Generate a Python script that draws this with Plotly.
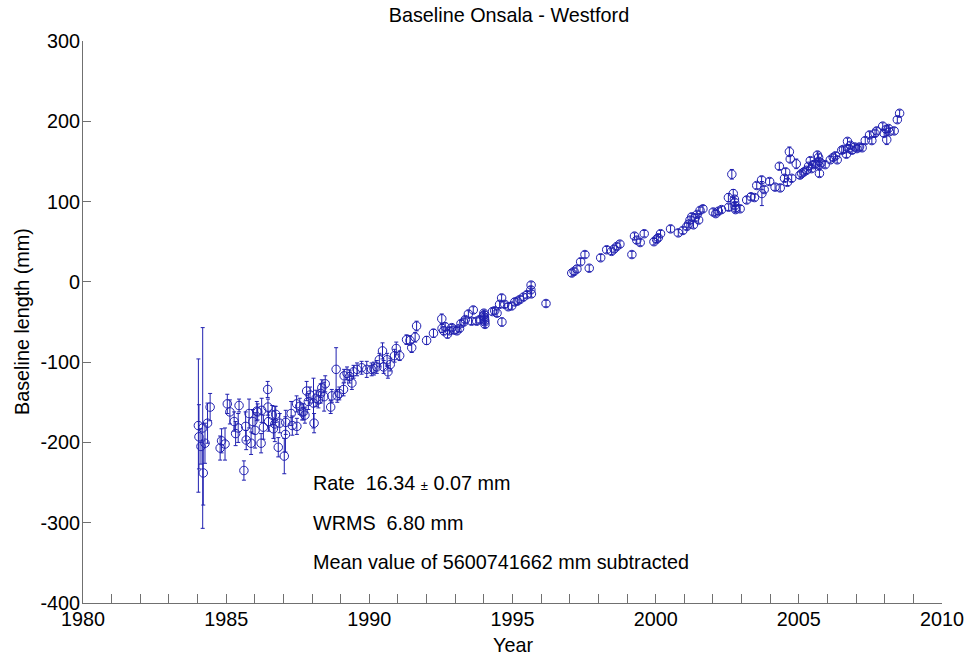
import plotly.graph_objects as go

# ---------------- data ----------------
years = [
    1984.03, 1984.05, 1984.12, 1984.18, 1984.20, 1984.26, 1984.35, 1984.44,
    1984.79, 1984.84, 1984.96, 1985.04, 1985.13, 1985.28, 1985.33, 1985.42,
    1985.45, 1985.62, 1985.68, 1985.70, 1985.80, 1985.87, 1985.93, 1986.01,
    1986.07, 1986.10, 1986.22, 1986.24, 1986.30, 1986.45, 1986.46, 1986.48,
    1986.61, 1986.65, 1986.70, 1986.73, 1986.82, 1986.87, 1987.03, 1987.07,
    1987.08, 1987.27, 1987.31, 1987.46, 1987.47, 1987.57, 1987.65, 1987.70,
    1987.75, 1987.81, 1987.87, 1987.93, 1988.05, 1988.07, 1988.14, 1988.22,
    1988.30, 1988.34, 1988.42, 1988.46, 1988.65, 1988.69, 1988.84, 1988.88,
    1988.95, 1989.10, 1989.12, 1989.22, 1989.31, 1989.39, 1989.45, 1989.57,
    1989.73, 1989.91, 1990.08, 1990.16, 1990.26, 1990.35, 1990.46, 1990.50,
    1990.62, 1990.65, 1990.73, 1990.88, 1990.94, 1991.06, 1991.30, 1991.42,
    1991.48, 1991.60, 1991.65, 1992.00, 1992.24, 1992.53, 1992.54, 1992.60,
    1992.65, 1992.73, 1992.80, 1992.88, 1992.96, 1993.06, 1993.15, 1993.20,
    1993.30, 1993.35, 1993.46, 1993.57, 1993.63, 1993.75, 1993.86, 1993.98,
    1994.00, 1994.01, 1994.02, 1994.02, 1994.03, 1994.03, 1994.04, 1994.30,
    1994.38, 1994.46, 1994.55, 1994.62, 1994.63, 1994.73, 1994.85, 1994.97,
    1995.08, 1995.17, 1995.26, 1995.38, 1995.50, 1995.64, 1995.65, 1995.66,
    1996.17, 1997.07, 1997.15, 1997.25, 1997.38, 1997.53, 1997.68, 1998.08,
    1998.29, 1998.46, 1998.55, 1998.64, 1998.75, 1999.17, 1999.26, 1999.34,
    1999.46, 1999.60, 1999.94, 2000.03, 2000.09, 2000.17, 2000.52, 2000.79,
    2000.95, 2001.09, 2001.15, 2001.20, 2001.26, 2001.32, 2001.38, 2001.45,
    2001.50, 2001.55, 2001.65, 2002.01, 2002.10, 2002.19, 2002.30, 2002.54,
    2002.55, 2002.66, 2002.71, 2002.75, 2002.76, 2002.77, 2002.78, 2002.79,
    2002.95, 2003.18, 2003.33, 2003.45, 2003.53, 2003.70, 2003.71, 2003.79,
    2003.98, 2004.17, 2004.32, 2004.35, 2004.50, 2004.54, 2004.60, 2004.67,
    2004.70, 2004.75, 2004.91, 2005.04, 2005.10, 2005.18, 2005.27, 2005.34,
    2005.40, 2005.44, 2005.50, 2005.58, 2005.65, 2005.69, 2005.70, 2005.71,
    2005.72, 2005.77, 2005.92, 2006.10, 2006.20, 2006.28, 2006.34, 2006.50,
    2006.56, 2006.66, 2006.70, 2006.75, 2006.80, 2006.86, 2006.95, 2007.03,
    2007.12, 2007.21, 2007.32, 2007.47, 2007.55, 2007.66, 2007.72, 2007.93,
    2007.98, 2008.05, 2008.07, 2008.13, 2008.16, 2008.33, 2008.44, 2008.52,
]
length_mm = [
    -179, -193, -205, -182, -238, -201, -176, -156,
    -207, -198, -202, -152, -162, -174, -189, -182,
    -154, -235, -180, -197, -164, -201, -174, -185,
    -161, -162, -201, -160, -181, -134, -156, -174,
    -166, -183, -177, -165, -206, -176, -217, -190,
    -175, -164, -179, -152, -180, -155, -162, -162,
    -166, -136, -149, -141, -151, -176, -145, -147,
    -139, -132, -143, -127, -156, -142, -109, -142,
    -139, -134, -117, -114, -118, -126, -112, -109,
    -107, -109, -109, -108, -106, -97, -86, -106,
    -97, -112, -103, -92, -83, -92, -72, -73,
    -82, -69, -55, -73, -64, -46, -58, -61,
    -56, -65, -61, -57, -60, -61, -58, -52,
    -50, -47, -40, -49, -35, -49, -47, -43,
    -39, -41, -44, -46, -48, -50, -53, -37,
    -36, -39, -28, -20, -50, -28, -31, -30,
    -25, -24, -22, -19, -16, -10, -4, -15,
    -27, 11, 13, 16, 25, 34, 17, 30,
    40, 38, 41, 44, 47, 34, 57, 52,
    49, 60, 50, 53, 55, 60, 66, 61,
    64, 69, 72, 77, 81, 71, 80, 84,
    77, 89, 91, 87, 85, 88, 90, 105,
    93, 134, 110, 103, 99, 95, 92, 90,
    91, 102, 106, 105, 120, 127, 110, 115,
    125, 118, 144, 117, 129, 137, 124, 162,
    153, 129, 147, 133, 135, 137, 139, 144,
    151, 141, 146, 147, 158, 155, 150, 145,
    135, 148, 146, 152, 155, 157, 152, 164,
    165, 159, 175, 166, 170, 164, 168, 166,
    168, 167, 176, 183, 176, 185, 188, 194,
    185, 190, 177, 191, 187, 188, 202, 210,
]
sigma_mm = [
    83, 40, 22, 125, 40, 25, 25, 17,
    15, 15, 20, 12, 15, 12, 15, 18,
    8, 12, 18, 12, 18, 14, 15, 22,
    12, 10, 12, 15, 15, 10, 10, 12,
    12, 12, 22, 10, 12, 12, 22, 22,
    15, 15, 12, 10, 10, 10, 10, 10,
    10, 12, 10, 10, 31, 12, 10, 10,
    12, 10, 18, 10, 8, 8, 27, 8,
    8, 8, 8, 8, 8, 8, 8, 8,
    8, 10, 8, 8, 8, 8, 10, 8,
    8, 8, 8, 8, 8, 6, 6, 6,
    6, 6, 6, 5, 5, 6, 5, 5,
    5, 5, 4, 4, 4, 4, 4, 4,
    4, 4, 4, 4, 4, 4, 4, 4,
    4, 4, 4, 4, 4, 4, 4, 4,
    4, 4, 4, 4, 5, 4, 4, 4,
    4, 4, 4, 4, 4, 4, 4, 4,
    4, 4, 4, 4, 4, 4, 4, 4,
    4, 4, 4, 4, 4, 4, 4, 4,
    4, 4, 4, 4, 4, 4, 4, 4,
    4, 4, 4, 4, 4, 4, 4, 4,
    4, 4, 4, 4, 4, 4, 4, 5,
    4, 6, 5, 4, 4, 4, 4, 4,
    4, 4, 4, 4, 4, 4, 15, 4,
    4, 4, 4, 4, 4, 4, 4, 6,
    4, 4, 6, 4, 4, 4, 4, 4,
    4, 4, 4, 4, 4, 4, 4, 4,
    4, 4, 4, 4, 4, 4, 4, 4,
    4, 4, 4, 4, 4, 4, 4, 4,
    4, 4, 4, 4, 4, 4, 4, 4,
    4, 4, 6, 4, 4, 4, 4, 4,
]

x_tickvals = [1980, 1985, 1990, 1995, 2000, 2005, 2010]
x_ticktext = ["1980", "1985", "1990", "1995", "2000", "2005", "2010"]
y_tickvals = [-400, -300, -200, -100, 0, 100, 200, 300]
y_ticktext = ["-400", "-300", "-200", "-100", "0", "100", "200", "300"]

title_text = "Baseline Onsala - Westford"
x_title = "Year"
y_title = "Baseline length (mm)"
notes = [
    "Rate  16.34 <span style='font-size:13px'>±</span> 0.07 mm",
    "WRMS  6.80 mm",
    "Mean value of 5600741662 mm subtracted",
]
note_y = [-251, -300, -349]
note_x = 1987.95

# ---------------- figure ----------------
BLUE = "#2020b0"
AXC = "#707070"
FONT = "Liberation Sans, Arial, Helvetica, sans-serif"
FS = 19.8

fig = go.Figure()
fig.add_trace(go.Scatter(
    x=years, y=length_mm, mode="markers",
    marker=dict(symbol="circle-open", size=8.5, color=BLUE, line=dict(width=1, color=BLUE)),
    error_y=dict(type="data", array=sigma_mm, visible=True, color=BLUE, thickness=1, width=2),
    showlegend=False,
))

for t, yv in zip(notes, note_y):
    fig.add_annotation(x=note_x, y=yv, xref="x", yref="y", text=t, showarrow=False,
                       xanchor="left", yanchor="middle",
                       font=dict(family=FONT, size=FS, color="black"))

# axis titles
fig.add_annotation(x=0.5, y=0, xref="paper", yref="paper", yshift=-42, text=x_title,
                   showarrow=False, xanchor="center", yanchor="middle",
                   font=dict(family=FONT, size=FS, color="black"))
fig.add_annotation(x=0, y=0.5, xref="paper", yref="paper", xshift=-61, text=y_title,
                   textangle=-90, showarrow=False, xanchor="center", yanchor="middle",
                   font=dict(family=FONT, size=FS, color="black"))

fig.update_layout(
    width=965, height=658,
    margin=dict(l=83, r=23, t=41, b=55, autoexpand=False),
    paper_bgcolor="white", plot_bgcolor="white",
    font=dict(family=FONT, size=FS, color="black"),
    title=dict(text=title_text, x=509 / 965, xref="container", xanchor="center",
               y=1 - 15 / 658, yref="container", yanchor="middle",
               font=dict(family=FONT, size=FS, color="black")),
    xaxis=dict(
        range=[1980, 2010], tickvals=x_tickvals, ticktext=x_ticktext,
        ticks="inside", ticklen=9, tickcolor=AXC, tickwidth=1,
        minor=dict(dtick=1, tick0=1980, ticks="inside", ticklen=9, tickcolor=AXC, tickwidth=1, showgrid=False),
        showline=True, linecolor=AXC, linewidth=1, mirror=False,
        showgrid=False, zeroline=False, automargin=False,
        ticklabelstandoff=-2,
        tickfont=dict(family=FONT, size=FS),
    ),
    yaxis=dict(
        range=[-400, 300], tickvals=y_tickvals, ticktext=y_ticktext,
        ticks="inside", ticklen=8, tickcolor=AXC, tickwidth=1,
        showline=True, linecolor=AXC, linewidth=1, mirror=False,
        showgrid=False, zeroline=False, automargin=False,
        ticklabelstandoff=-2,
        tickfont=dict(family=FONT, size=FS),
    ),
)

fig.write_html(
    "out.html",
    config={"displayModeBar": False},
    post_script="document.body.style.margin='0';document.body.style.overflow='hidden';",
)
